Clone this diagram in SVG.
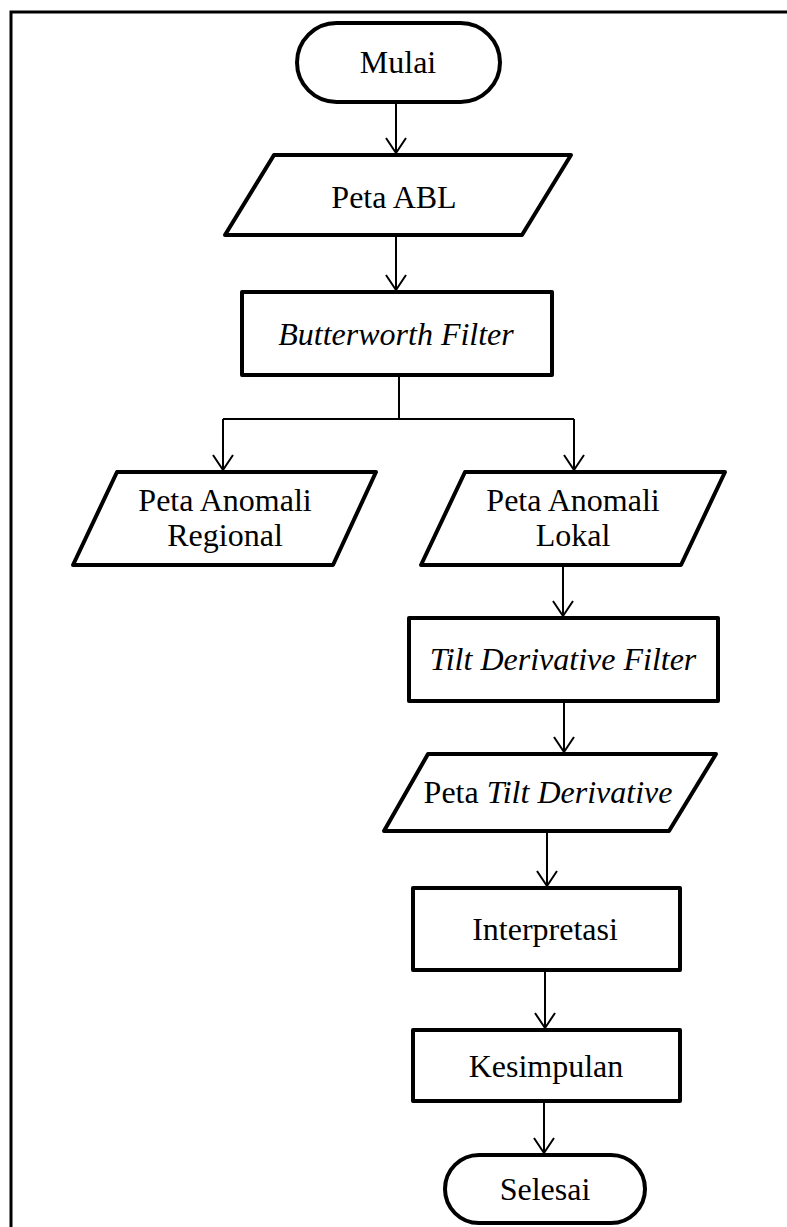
<svg xmlns="http://www.w3.org/2000/svg" width="787" height="1227" viewBox="0 0 787 1227">
<style>
.s{fill:#fff;stroke:#000;stroke-width:4;stroke-linejoin:round}
.c{fill:none;stroke:#000;stroke-width:2}
text{font-family:"Liberation Serif","Times New Roman",serif;font-size:32px;fill:#000;text-anchor:middle}
.i{font-style:italic}
</style>
<defs>
<marker id="ah" markerUnits="userSpaceOnUse" viewBox="-17 -12 19 24" markerWidth="19" markerHeight="24" refX="0" refY="0" orient="auto">
<path d="M-15,-10 L0,0 L-15,10" fill="none" stroke="#000" stroke-width="2"/>
</marker>
</defs>
<rect x="11" y="12" width="800" height="1240" fill="#fff" stroke="#000" stroke-width="3"/>
<g id="connectors">
<line class="c" x1="396" y1="104" x2="396" y2="153" marker-end="url(#ah)"/>
<line class="c" x1="396" y1="237" x2="396" y2="290" marker-end="url(#ah)"/>
<polyline class="c" points="399,377 399,419"/>
<polyline class="c" points="223,419 574,419"/>
<line class="c" x1="223" y1="419" x2="223" y2="470" marker-end="url(#ah)"/>
<line class="c" x1="574" y1="419" x2="574" y2="470" marker-end="url(#ah)"/>
<line class="c" x1="563" y1="567" x2="563" y2="616" marker-end="url(#ah)"/>
<line class="c" x1="564" y1="703" x2="564" y2="752" marker-end="url(#ah)"/>
<line class="c" x1="547" y1="833" x2="547" y2="886" marker-end="url(#ah)"/>
<line class="c" x1="545" y1="972" x2="545" y2="1028" marker-end="url(#ah)"/>
<line class="c" x1="544" y1="1103" x2="544" y2="1153" marker-end="url(#ah)"/>
</g>
<g id="mulai"><rect class="s" x="297" y="23" width="203" height="79" rx="39.5"/><text x="398" y="73">Mulai</text></g>
<g id="peta-abl"><polygon class="s" points="274,155 571,155 522,235 225,235"/><text x="394" y="208">Peta ABL</text></g>
<g id="butterworth"><rect class="s" x="242" y="292" width="310" height="83"/><text class="i" x="396" y="345">Butterworth Filter</text></g>
<g id="regional"><polygon class="s" points="117,472 376,472 333,565 73,565"/><text x="225" y="511">Peta Anomali</text><text x="225" y="546">Regional</text></g>
<g id="lokal"><polygon class="s" points="465,472 725,472 681,565 421,565"/><text x="573" y="511">Peta Anomali</text><text x="573" y="546">Lokal</text></g>
<g id="tilt-filter"><rect class="s" x="409" y="618" width="309" height="83"/><text class="i" x="563" y="670">Tilt Derivative Filter</text></g>
<g id="peta-tilt"><polygon class="s" points="428,754 716,754 669,831 384,831"/><text x="548" y="803">Peta <tspan class="i">Tilt Derivative</tspan></text></g>
<g id="interpretasi"><rect class="s" x="413" y="888" width="267" height="82"/><text x="545" y="940">Interpretasi</text></g>
<g id="kesimpulan"><rect class="s" x="413" y="1030" width="267" height="71"/><text x="546" y="1077">Kesimpulan</text></g>
<g id="selesai"><rect class="s" x="445" y="1155" width="200" height="68" rx="34"/><text x="545" y="1200">Selesai</text></g>
</svg>
